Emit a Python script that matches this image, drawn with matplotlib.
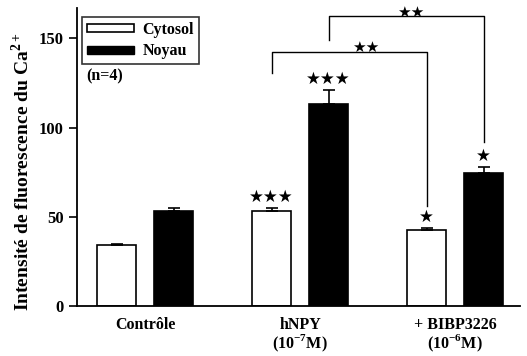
import matplotlib
matplotlib.use("Agg")
import matplotlib.pyplot as plt
import numpy as np
from matplotlib.patches import Patch

plt.rcParams['font.family'] = ['Liberation Serif', 'DejaVu Serif']
plt.rcParams['font.weight'] = 'bold'
plt.rcParams['mathtext.fontset'] = 'custom'
plt.rcParams['mathtext.rm'] = 'Liberation Serif:bold'
plt.rcParams['mathtext.bf'] = 'Liberation Serif:bold'

groups = ["Contrôle", "hNPY\n(10$^{-7}$M)", "+ BIBP3226\n(10$^{-6}$M)"]
cytosol = [34, 53, 42.5]
cytosol_err = [0.6, 2.0, 1.5]
noyau = [53.5, 113, 74.5]
noyau_err = [1.5, 8, 3.5]
cyt_stars = ["", "★★★", "★"]
noy_stars = ["", "★★★", "★"]

fig = plt.figure(figsize=(5.27, 3.56), dpi=100)
ax = fig.add_axes([0.146, 0.140, 0.841, 0.838])

x = np.arange(len(groups))
w = 0.25
off = 0.184
ekw = dict(lw=1.2, capsize=4.5, capthick=1.2, ecolor='black')
ax.bar(x - off, cytosol, w, color='white', edgecolor='black', lw=1.2, label='Cytosol')
ax.errorbar(x - off, cytosol, yerr=[np.zeros(3), cytosol_err], fmt='none', **ekw)
ax.bar(x + off, noyau, w, color='black', edgecolor='black', lw=1.2, label='Noyau')
ax.errorbar(x + off, noyau, yerr=[np.zeros(3), noyau_err], fmt='none', **ekw)

for i in range(3):
    if cyt_stars[i]:
        ax.text(x[i] - off, cytosol[i] + cytosol_err[i] + 1, cyt_stars[i], ha='center', va='bottom',
                fontsize=12, family='DejaVu Sans')
    if noy_stars[i]:
        ax.text(x[i] + off, noyau[i] + noyau_err[i] + 1, noy_stars[i], ha='center', va='bottom',
                fontsize=12, family='DejaVu Sans')

# brackets
def bracket(x1, x2, ytop, y1, y2, label, shift):
    ax.plot([x1, x1, x2, x2], [y1, ytop, ytop, y2], color='black', lw=1.0, clip_on=False)
    ax.text((x1 + x2) / 2 + shift, ytop - 2.0, label, ha='center', va='bottom', fontsize=11,
            family='DejaVu Sans', clip_on=False)

bracket(x[1] - off, x[2] - off, 142.5, 130.5, 56, "★★", 0.11)
bracket(x[1] + off, x[2] + off, 162.5, 149, 92, "★★", 0.03)

ax.set_xlim(-0.44, 2.42)
ax.set_ylim(0, 167)
ax.set_yticks([0, 50, 100, 150])
ax.set_xticks(x)
ax.set_xticklabels(groups, fontsize=11.5, fontweight='bold', linespacing=0.95)
ax.tick_params(axis='x', length=0, pad=8)
ax.tick_params(axis='y', length=6, width=1.2, labelsize=12, direction='out')
for lbl in ax.get_yticklabels():
    lbl.set_fontweight('bold')
ax.spines['top'].set_visible(False)
ax.spines['right'].set_visible(False)
ax.spines['left'].set_linewidth(1.3)
ax.spines['bottom'].set_linewidth(1.3)

ax.set_ylabel("Intensité de fluorescence du Ca$^{2+}$", fontsize=14, fontweight='bold')
ax.yaxis.set_label_coords(-0.10, 0.45)

handles = [Patch(facecolor='white', edgecolor='black', lw=1.2), Patch(facecolor='black', edgecolor='black')]
leg = ax.legend(handles, ['Cytosol', 'Noyau'], loc='upper left', bbox_to_anchor=(0.0, 0.985),
                borderaxespad=0.3,
                frameon=True, fancybox=False, edgecolor='black', handlelength=3.0, handleheight=0.4,
                borderpad=0.3, labelspacing=0.35, handletextpad=0.5, prop={'weight': 'bold', 'size': 11.5})
leg.get_frame().set_linewidth(1.2)
ax.text(0.022, 0.77, "(n=4)", transform=ax.transAxes, fontsize=11.5, fontweight='bold', va='center')

fig.savefig("out.png", dpi=100)
